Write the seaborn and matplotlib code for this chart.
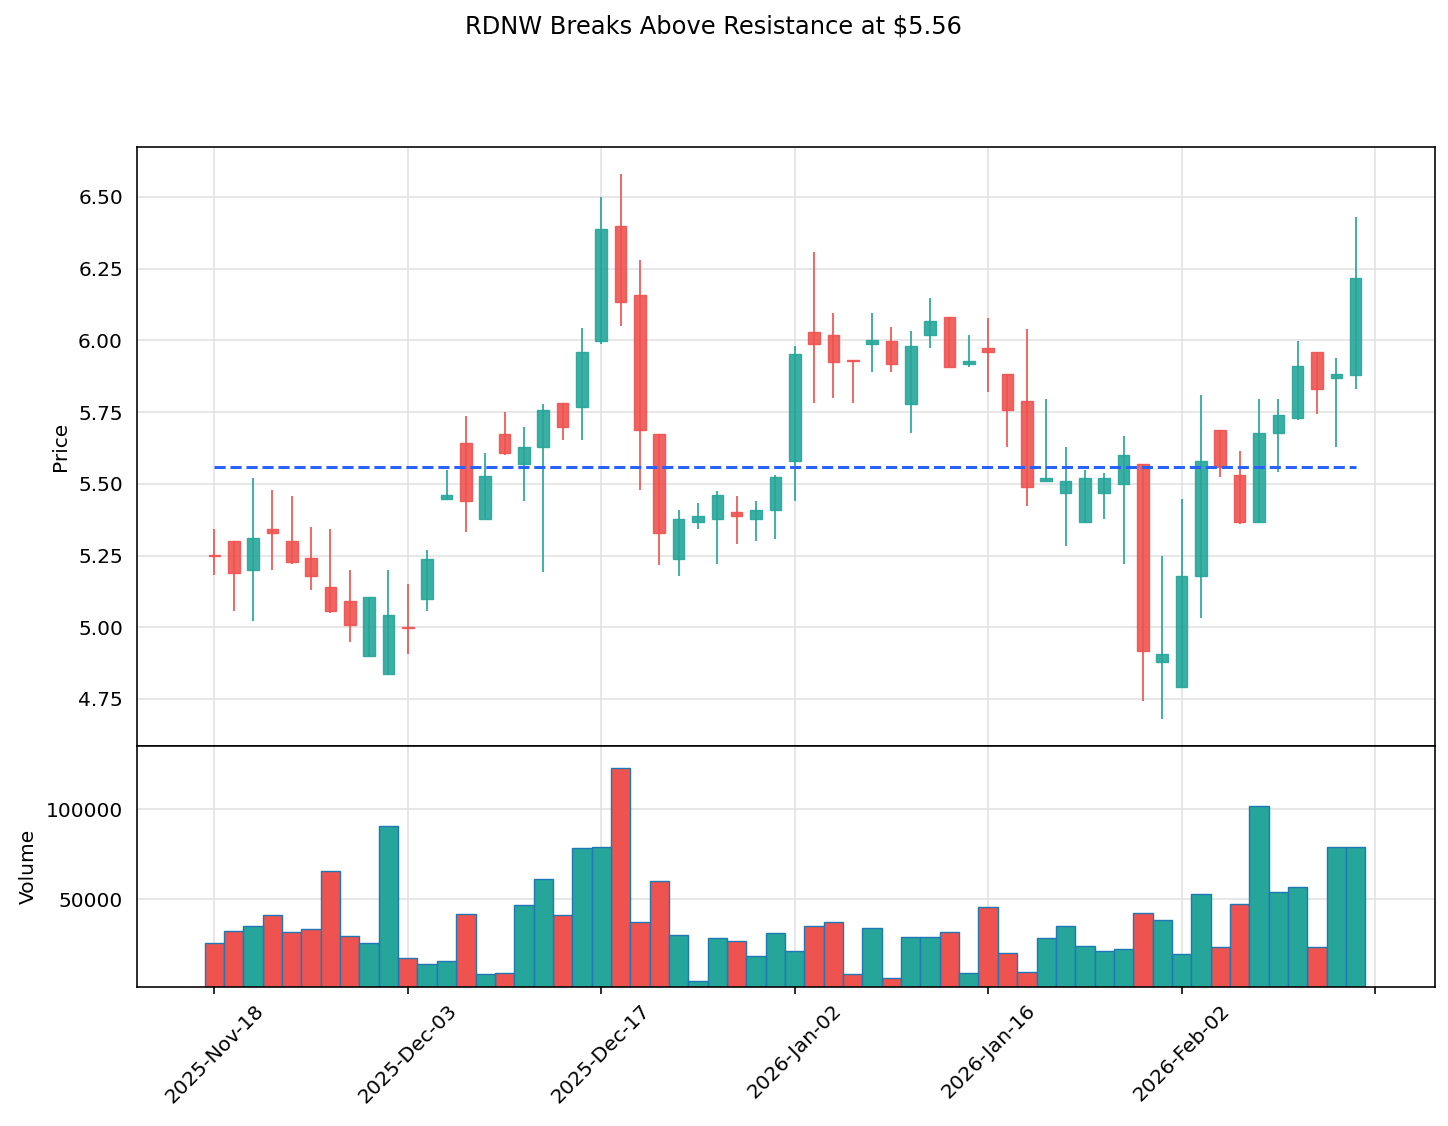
import pandas as pd
import numpy as np
import matplotlib
matplotlib.use('Agg')
import matplotlib.pyplot as plt
import seaborn as sns

# precos diarios (OHLC) e volume
abertura = [5.25, 5.301, 5.200, 5.342, 5.301, 5.241, 5.140, 5.091, 4.900, 4.837,
            5.002, 5.099, 5.447, 5.641, 5.379, 5.673, 5.569, 5.628, 5.780, 5.767,
            5.997, 6.398, 6.159, 5.673, 5.239, 5.367, 5.377, 5.401, 5.377, 5.409,
            5.578, 6.030, 6.019, 5.931, 5.988, 5.998, 5.778, 6.018, 6.080, 5.916,
            5.972, 5.881, 5.789, 5.509, 5.467, 5.368, 5.467, 5.500, 5.569, 4.879,
            4.791, 5.180, 5.689, 5.529, 5.368, 5.678, 5.729, 5.960, 5.869, 5.878]
maxima = [5.342, 5.301, 5.521, 5.478, 5.458, 5.350, 5.342, 5.200, 5.104, 5.200,
          5.149, 5.270, 5.549, 5.737, 5.606, 5.751, 5.698, 5.777, 5.780, 6.042,
          6.499, 6.579, 6.279, 5.673, 5.408, 5.434, 5.476, 5.458, 5.441, 5.529,
          5.980, 6.307, 6.097, 5.931, 6.097, 6.048, 6.031, 6.147, 6.080, 6.018,
          6.077, 5.881, 6.039, 5.796, 5.628, 5.549, 5.537, 5.665, 5.569, 5.249,
          5.447, 5.808, 5.689, 5.615, 5.797, 5.797, 5.997, 5.960, 5.939, 6.429]
minima = [5.183, 5.058, 5.021, 5.200, 5.219, 5.130, 5.051, 4.949, 4.900, 4.837,
          4.908, 5.058, 5.447, 5.331, 5.379, 5.599, 5.441, 5.192, 5.651, 5.651,
          5.989, 6.051, 5.480, 5.216, 5.180, 5.342, 5.219, 5.289, 5.299, 5.309,
          5.441, 5.783, 5.800, 5.780, 5.891, 5.891, 5.678, 5.972, 5.907, 5.907,
          5.821, 5.630, 5.421, 5.509, 5.282, 5.368, 5.377, 5.219, 4.743, 4.681,
          4.791, 5.031, 5.524, 5.359, 5.368, 5.540, 5.722, 5.742, 5.630, 5.830]
fechamento = [5.248, 5.190, 5.311, 5.328, 5.227, 5.179, 5.055, 5.009, 5.104, 5.043,
              4.998, 5.237, 5.460, 5.439, 5.527, 5.606, 5.630, 5.758, 5.697, 5.960,
              6.388, 6.133, 5.686, 5.328, 5.377, 5.386, 5.460, 5.388, 5.408, 5.523,
              5.951, 5.986, 5.924, 5.929, 6.000, 5.916, 5.981, 6.068, 5.907, 5.929,
              5.958, 5.756, 5.490, 5.521, 5.511, 5.521, 5.521, 5.599, 4.918, 4.907,
              5.180, 5.581, 5.558, 5.368, 5.678, 5.741, 5.910, 5.830, 5.881, 6.217]
volume = [25650, 32350, 35320, 41270, 31790, 33460, 65810, 29740, 25650, 90530,
          17290, 14130, 16170, 41830, 8920, 9480, 46850, 61350, 41270, 78640,
          79190, 122700, 37370, 60230, 30120, 5020, 28630, 26770, 18590, 31230,
          21300, 35140, 37370, 8920, 34020, 6690, 29000, 29000, 31790, 9480,
          45730, 20080, 10040, 28630, 35140, 24170, 21190, 22490, 42390, 38670,
          19710, 52980, 23610, 47400, 101500, 54280, 56890, 23610, 79190, 79190]
resistencia = 5.56

feriados = ['2025-11-27', '2025-12-25', '2026-01-01', '2026-01-19']
datas = pd.bdate_range('2025-11-18', periods=60, freq='C', holidays=feriados)

dados = pd.DataFrame({'data': datas, 'open': abertura, 'high': maxima,
                      'low': minima, 'close': fechamento, 'volume': volume})
dados['idx'] = np.arange(len(dados))
dados['dir'] = np.where(dados['close'] >= dados['open'], 'alta', 'baixa')

verde = '#26a69a'
vermelho = '#ef5350'
cores = {'alta': verde, 'baixa': vermelho}

sns.set_style('white')
plt.rcParams['font.family'] = ['DejaVu Sans']
plt.rcParams.update({'text.color': 'black', 'axes.labelcolor': 'black',
                     'xtick.color': 'black', 'ytick.color': 'black'})

W, H, DPI = 1448, 1126, 144.8
fig = plt.figure(figsize=(W / DPI, H / DPI), dpi=DPI)
ax1 = fig.add_axes([137 / W, 1 - 746 / H, 1298 / W, 599 / H])
ax2 = fig.add_axes([137 / W, 1 - 987 / H, 1298 / W, 241 / H], sharex=ax1)

for ax in (ax1, ax2):
    ax.set_axisbelow(True)
    ax.grid(True, color='#e2e2e2', linewidth=0.8)
    for s in ax.spines.values():
        s.set_color('black')
        s.set_linewidth(0.8)

# pavios e corpos
cor_vela = dados['dir'].map(cores)
ax1.vlines(dados['idx'], dados['low'], dados['high'], colors=cor_vela, linewidth=0.85, zorder=2)
corpo = (dados['close'] - dados['open']).abs().clip(lower=0.004)
base = dados[['open', 'close']].min(axis=1)
ax1.bar(dados['idx'], corpo, bottom=base, width=0.6, color=cor_vela, alpha=0.9,
        edgecolor=cor_vela, linewidth=0.7, zorder=3)

ax1.hlines(resistencia, 0, len(dados) - 1, colors='#2962ff', linestyles='--', linewidth=1.5, zorder=4)

ax1.set_ylim(4.586, 6.674)
ax1.set_yticks(np.arange(4.75, 6.51, 0.25))
ax1.set_yticklabels([f'{v:.2f}' for v in np.arange(4.75, 6.51, 0.25)])
ax1.set_ylabel('Price')
ax1.tick_params(axis='x', labelbottom=False, length=0)
ax1.tick_params(axis='y', length=3.5)

# volume
sns.barplot(data=dados, x='idx', y='volume', hue='dir', palette=cores, native_scale=True,
            dodge=False, width=1.0, edgecolor='#1f77b4', linewidth=0.7, saturation=1,
            legend=False, ax=ax2, zorder=2)
ax2.set_ylim(1500, 135000)
ax2.set_yticks([50000, 100000])
ax2.set_yticklabels(['50000', '100000'])
ax2.set_ylabel('Volume')
ax2.set_xlabel('')

pos_ticks = list(range(0, 61, 10))
rotulos = [datas[i].strftime('%Y-%b-%d') for i in range(0, 60, 10)] + ['']
ax2.set_xticks(pos_ticks)
ax2.set_xticklabels(rotulos, rotation=45, ha='center')
ax2.tick_params(axis='x', length=3.5, width=0.8, bottom=True)
ax2.tick_params(axis='y', length=3.5)
ax2.set_xlim(-4.0, 63.1)

fig.suptitle('RDNW Breaks Above Resistance at $5.56', fontsize=12, x=0.493, y=0.987)

fig.savefig('out.png', dpi=DPI)
